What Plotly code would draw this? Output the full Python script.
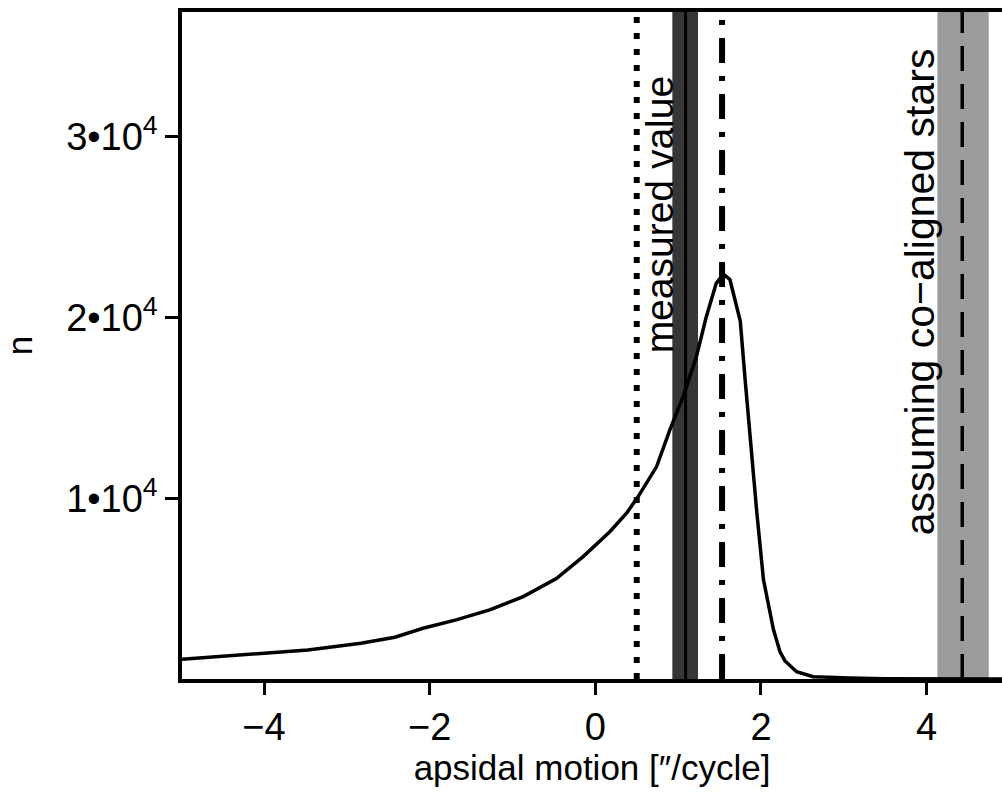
import plotly.graph_objects as go

# histogram of simulated apsidal motion
apsidal = [-4.99, -4.28, -4.0, -3.47, -2.83, -2.42, -2.08, -1.68, -1.275, -0.87,
           -0.47, -0.147, 0.175, 0.377, 0.517, 0.74, 0.90, 1.06, 1.22, 1.34,
           1.46, 1.545, 1.625, 1.75, 1.81, 1.88, 1.95, 2.03, 2.08, 2.15,
           2.23, 2.29, 2.43, 2.63, 3.07, 3.5, 4.91]
counts = [1090, 1330, 1430, 1610, 1980, 2310, 2810, 3270, 3820, 4560,
          5560, 6770, 8150, 9170, 10090, 11750, 13780, 15620, 17830, 20040,
          21890, 22400, 22100, 19800, 16500, 12800, 9200, 5500, 4300, 2750,
          1500, 1000, 400, 130, 60, 20, 0]

# reference values
measured_lo, measured, measured_hi = 0.93, 1.09, 1.24
dotted_x = 0.50
dashdot_x = 1.53
coaligned_lo, coaligned, coaligned_hi = 4.13, 4.43, 4.75

x_ticks = [-4, -2, 0, 2, 4]
x_labels = ["\u22124", "\u22122", "0", "2", "4"]
y_ticks = [10000, 20000, 30000]
y_labels = ["1\u202210<sup>4</sup>", "2\u202210<sup>4</sup>", "3\u202210<sup>4</sup>"]

font = "Liberation Sans, Arial, sans-serif"

fig = go.Figure()

# uncertainty bands
fig.add_vrect(x0=measured_lo, x1=measured_hi, fillcolor="#363636", opacity=1, line_width=0, layer="below")
fig.add_vrect(x0=coaligned_lo, x1=coaligned_hi, fillcolor="#9b9b9b", opacity=1, line_width=0, layer="below")

fig.add_trace(go.Scatter(x=apsidal, y=counts, mode="lines",
                         line=dict(color="black", width=3.5), showlegend=False))

fig.add_vline(x=measured, line=dict(color="black", width=3))
fig.add_vline(x=dotted_x, line=dict(color="black", width=6, dash="6px,10px"))
fig.add_vline(x=dashdot_x, line=dict(color="black", width=6, dash="25px,13px,5px,13px"))
fig.add_vline(x=coaligned, line=dict(color="black", width=3.5, dash="25px,13px"))

fig.add_annotation(x=0.78, y=25700, text="measured value", textangle=-90,
                   showarrow=False, font=dict(size=39, color="black", family=font))
fig.add_annotation(x=3.92, y=21400, text="assuming co\u2212aligned stars", textangle=-90,
                   showarrow=False, font=dict(size=41, color="black", family=font))

fig.update_xaxes(range=[-4.99, 4.91], tickvals=x_ticks, ticktext=x_labels,
                 showline=True, linecolor="black", linewidth=3.5, mirror=True,
                 ticks="outside", ticklen=12, tickwidth=3, tickcolor="black",
                 showgrid=False, zeroline=False, automargin=False,
                 title=dict(text="apsidal motion [\u2033/cycle]", standoff=2,
                            font=dict(size=35, family=font, color="black")),
                 tickfont=dict(size=38))
fig.update_yaxes(range=[0, 36900], tickvals=y_ticks, ticktext=y_labels,
                 showline=True, linecolor="black", linewidth=3.5,
                 ticks="outside", ticklen=13, tickwidth=3, tickcolor="black",
                 showgrid=False, zeroline=False, automargin=False,
                 title=dict(text="n", standoff=24,
                            font=dict(size=35, family=font, color="black")),
                 tickfont=dict(size=38))

fig.update_layout(
    width=1002, height=794,
    margin=dict(l=182, r=0, t=12, b=115),
    plot_bgcolor="white", paper_bgcolor="white",
    font=dict(family=font, size=36, color="black"),
)

# drop the default page margin so the figure sits at the window's corner
fig.write_html("out.html", config={"displayModeBar": False},
               post_script="document.body.style.margin='0';document.body.style.overflow='hidden';")
